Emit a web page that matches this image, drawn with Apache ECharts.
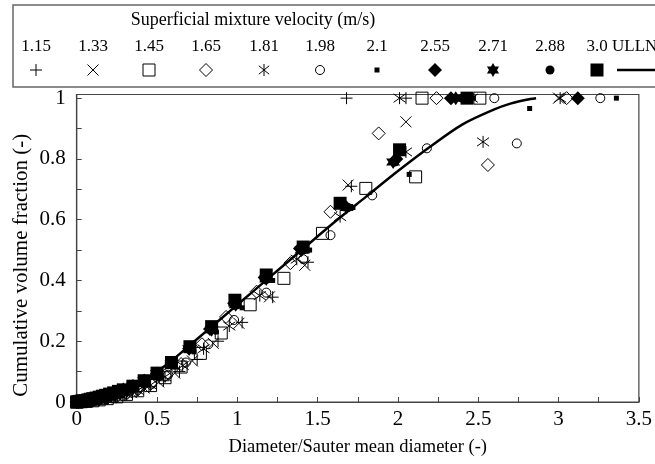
<!DOCTYPE html>
<html><head><meta charset="utf-8">
<script src="https://cdn.jsdelivr.net/npm/echarts@6/dist/echarts.min.js"></script>
<style>html,body{margin:0;padding:0;background:#fff}#c{width:655px;height:464px}</style>
</head><body><div id="c"></div>
<script>
// ---------- data ----------
const legendTitle = 'Superficial mixture velocity (m/s)';
const velocities = ['1.15','1.33','1.45','1.65','1.81','1.98','2.1','2.55','2.71','2.88','3.0'];
const xTicks = [0,0.5,1,1.5,2,2.5,3,3.5];
const yTicks = [0,0.2,0.4,0.6,0.8,1];

const x115 = [0,0.03,0.06,0.1,0.14,0.19,0.24,0.3,0.37,0.45,0.54,0.64,0.75,0.88,1.03,1.22,1.44,1.71,1.68,2.05];
const y115 = [0,0.001,0.002,0.004,0.007,0.011,0.016,0.024,0.035,0.05,0.07,0.1,0.14,0.2,0.262,0.345,0.46,0.71,1.0,1.0];

const x133 = [0,0.03,0.07,0.11,0.16,0.21,0.27,0.34,0.42,0.51,0.61,0.72,0.85,1.01,1.2,1.42,1.69,2.05,3.0];
const y133 = [0,0.001,0.003,0.005,0.009,0.014,0.021,0.031,0.046,0.066,0.095,0.135,0.193,0.259,0.346,0.45,0.714,0.922,1.0];

const x145 = [0,0.03,0.06,0.1,0.14,0.19,0.25,0.31,0.38,0.46,0.55,0.65,0.77,0.9,1.08,1.29,1.53,1.8,2.11,2.15,2.51];
const y145 = [0,0.001,0.002,0.004,0.007,0.011,0.017,0.025,0.037,0.054,0.08,0.115,0.16,0.227,0.32,0.407,0.555,0.703,0.741,1.0,1.0];

const x165 = [0,0.03,0.06,0.1,0.14,0.19,0.25,0.31,0.38,0.46,0.55,0.65,0.78,0.93,1.12,1.33,1.58,1.88,2.24,2.56,3.05];
const y165 = [0,0.001,0.002,0.005,0.008,0.012,0.019,0.028,0.041,0.06,0.088,0.125,0.19,0.28,0.363,0.457,0.626,0.884,1.0,0.78,1.0];

const x181 = [0,0.03,0.06,0.1,0.14,0.19,0.25,0.31,0.38,0.46,0.55,0.66,0.79,0.95,1.14,1.37,1.64,2.05,2.01,2.46,2.53,3.01];
const y181 = [0,0.001,0.002,0.004,0.007,0.011,0.017,0.026,0.038,0.056,0.083,0.12,0.175,0.25,0.35,0.47,0.61,0.823,1.0,1.0,0.856,1.0];

const x198 = [0,0.03,0.06,0.1,0.14,0.19,0.25,0.31,0.38,0.47,0.57,0.68,0.82,0.98,1.18,1.41,1.58,1.84,2.18,2.6,2.74,3.26];
const y198 = [0,0.001,0.002,0.004,0.007,0.011,0.018,0.027,0.04,0.06,0.09,0.13,0.19,0.27,0.36,0.47,0.549,0.68,0.835,1.0,0.851,1.0];

const x210 = [0,0.02,0.05,0.08,0.12,0.16,0.21,0.27,0.34,0.42,0.51,0.61,0.73,0.87,1.03,1.22,1.45,1.72,2.07,2.47,2.82,3.36];
const y210 = [0,0.001,0.002,0.004,0.007,0.011,0.017,0.025,0.037,0.055,0.08,0.115,0.165,0.23,0.31,0.4,0.5,0.64,0.749,1.0,0.966,1.0];

const x255 = [0,0.01,0.02,0.03,0.04,0.055,0.07,0.085,0.1,0.12,0.14,0.16,0.18,0.205,0.23,0.26,0.29,0.35,0.42,0.5,0.59,0.7,0.83,0.98,1.17,1.39,1.66,1.99,2.33,3.12];
const y255 = [0,0.001,0.002,0.003,0.004,0.005,0.007,0.009,0.011,0.013,0.016,0.019,0.022,0.026,0.03,0.035,0.04,0.052,0.07,0.094,0.128,0.176,0.24,0.325,0.41,0.505,0.65,0.8,1.0,1.0];

const x271 = [0,0.01,0.02,0.03,0.04,0.055,0.07,0.085,0.1,0.12,0.14,0.16,0.18,0.205,0.23,0.26,0.29,0.35,0.42,0.5,0.59,0.7,0.84,0.99,1.18,1.4,1.68,1.97,2.36];
const y271 = [0,0.001,0.002,0.003,0.004,0.005,0.007,0.009,0.011,0.013,0.016,0.019,0.022,0.026,0.03,0.035,0.041,0.053,0.07,0.093,0.126,0.175,0.238,0.32,0.405,0.5,0.64,0.79,1.0];

const x288 = [0,0.02,0.04,0.07,0.1,0.14,0.18,0.23,0.29,0.35,0.42,0.5,0.59,0.7,0.84,1.0,1.19,1.41,1.69,1.98,2.4];
const y288 = [0,0.002,0.004,0.007,0.011,0.016,0.022,0.03,0.041,0.053,0.07,0.093,0.126,0.175,0.238,0.32,0.405,0.5,0.64,0.79,1.0];

const x300 = [0,0.01,0.02,0.03,0.04,0.055,0.07,0.085,0.1,0.12,0.14,0.16,0.18,0.205,0.23,0.26,0.29,0.35,0.42,0.5,0.59,0.705,0.84,0.985,1.18,1.41,1.64,2.01,2.43];
const y300 = [0,0.001,0.002,0.003,0.004,0.005,0.007,0.009,0.011,0.013,0.016,0.019,0.022,0.026,0.03,0.035,0.04,0.052,0.07,0.095,0.13,0.182,0.248,0.335,0.418,0.51,0.654,0.83,1.0];

const ullnX = [0,0.1,0.2,0.3,0.4,0.5,0.6,0.7,0.8,0.9,1.0,1.2,1.4,1.6,1.8,2.0,2.2,2.4,2.6,2.7,2.8,2.86];
const ullnY = [0,0.004,0.016,0.037,0.065,0.1,0.14,0.185,0.23,0.275,0.32,0.41,0.5,0.59,0.675,0.76,0.84,0.913,0.963,0.982,0.995,1.0];

const seriesX = [x115,x133,x145,x165,x181,x198,x210,x255,x271,x288,x300];
const seriesY = [y115,y133,y145,y165,y181,y198,y210,y255,y271,y288,y300];

// ---------- styles ----------
const P = {
  plus: 'M0,5L10,5M5,0L5,10',
  cross: 'M0,0L10,10M10,0L0,10',
  rect: 'M0,0L10,0L10,10L0,10Z',
  diamond: 'M5,0L10,5L5,10L0,5Z',
  ast: 'M5,0L5,10M0.7,1.5L9.3,8.5M9.3,1.5L0.7,8.5',
  star6: 'M5,0L6.44,2.5L9.33,2.5L7.89,5L9.33,7.5L6.44,7.5L5,10L3.56,7.5L0.67,7.5L2.11,5L0.67,2.5L3.56,2.5Z'
};
// [shape, size, filled]
const styles = [
  ['plus',12,false],['cross',11,false],['rect',12,false],['diamond',13,false],
  ['ast',12,false],['circle',9,false],['rect',5,true],['diamond',14,true],
  ['star6',14,true],['circle',9,true],['rect',13,true]
];
const FONT = 'Liberation Serif';

function symOf(s){ return s==='circle' ? 'circle' : 'path://' + P[s]; }

const series = velocities.map((v,i)=>{
  const [shape,size,filled] = styles[i];
  return {
    name: v, type: 'scatter', symbol: symOf(shape), symbolSize: size,
    data: seriesX[i].map((x,j)=>[x, seriesY[i][j]]),
    itemStyle: { color: filled ? '#000' : 'rgba(0,0,0,0)', borderColor: '#000', borderWidth: filled ? 0 : 1, opacity: 1 },
    emphasis: { disabled: true }, clip: false, z: 3 + i
  };
});
series.push({
  name: 'ULLN', type: 'line', data: ullnX.map((x,j)=>[x, ullnY[j]]), smooth: 0.3,
  showSymbol: false, symbol: 'none', lineStyle: { color: '#000', width: 2.5 }, z: 20
});

// ---------- legend (graphic) ----------
function pathToGraphics(d, cx, cy, size, st) {
  const out = [];
  d.split('M').filter(s => s.length).forEach(sub => {
    const closed = /Z$/.test(sub);
    const pts = sub.replace('Z','').split('L').map(p => {
      const [a,b] = p.split(',').map(Number);
      return [cx - size/2 + a*size/10, cy - size/2 + b*size/10];
    });
    if (closed) out.push({ type: 'polygon', shape: { points: pts }, style: st });
    else out.push({ type: 'polyline', shape: { points: pts }, style: { stroke: '#000', lineWidth: 1, fill: null } });
  });
  return out;
}
const legX = [36,93,149,206,264,320,377,435,493,550,597];
const graphics = [
  { type: 'rect', shape: { x: 13, y: 5, width: 700, height: 82 }, style: { fill: null, stroke: '#666', lineWidth: 1.5 } },
  { type: 'text', x: 253, y: 20, style: { text: legendTitle, font: '18px "' + FONT + '"', fill: '#000', align: 'center', verticalAlign: 'middle' } }
];
velocities.forEach((v,i)=>{
  const cx = legX[i], cy = 70;
  graphics.push({ type: 'text', x: cx, y: 47, style: { text: v, font: '17px "' + FONT + '"', fill: '#000', align: 'center', verticalAlign: 'middle' } });
  const [shape,size,filled] = styles[i];
  const st = filled ? { fill: '#000' } : { fill: null, stroke: '#000', lineWidth: 1 };
  if (shape === 'circle') {
    graphics.push({ type: 'circle', shape: { cx: cx, cy: cy, r: size/2 }, style: st });
  } else {
    pathToGraphics(P[shape], cx, cy, size, st).forEach(g => graphics.push(g));
  }
});
graphics.push({ type: 'text', x: 612, y: 47, style: { text: 'ULLN', font: '17px "' + FONT + '"', fill: '#000', align: 'left', verticalAlign: 'middle' } });
graphics.push({ type: 'line', shape: { x1: 617, y1: 70, x2: 660, y2: 70 }, style: { stroke: '#000', lineWidth: 2.5 } });

const axisCommon = {
  type: 'value',
  axisLine: { show: true, onZero: false, lineStyle: { color: '#444', width: 1.2 } },
  axisTick: { show: true, inside: true, length: 5, lineStyle: { color: '#444', width: 1 } },
  minorTick: { show: true, splitNumber: 2, length: 5, lineStyle: { color: '#444', width: 1 } },
  splitLine: { show: false },
  nameLocation: 'middle',
  nameMoveOverlap: false
};

const chart = echarts.init(document.getElementById('c'), null, { renderer: 'canvas' });
chart.setOption({
  animation: false,
  backgroundColor: '#fff',
  grid: { left: 76.7, right: 16, top: 94.5, bottom: 62, show: true, borderColor: '#444', borderWidth: 1.2, backgroundColor: 'transparent' },
  xAxis: Object.assign({}, axisCommon, {
    min: 0, max: 3.5, interval: 0.5,
    name: 'Diameter/Sauter mean diameter (-)', nameGap: 36,
    nameTextStyle: { fontSize: 18.5, fontFamily: FONT, color: '#000' },
    axisLabel: { color: '#000', fontSize: 21, fontFamily: FONT, margin: 7,
      formatter: v => { const k = xTicks.findIndex(t => Math.abs(t - v) < 1e-6); return k >= 0 ? String(xTicks[k]) : ''; } }
  }),
  yAxis: Object.assign({}, axisCommon, {
    min: 0, max: 1.012, interval: 0.2,
    name: 'Cumulative volume fraction (-)', nameGap: 45,
    nameTextStyle: { fontSize: 21, fontFamily: FONT, color: '#000', padding: [0, 34, 0, 0] },
    axisLabel: { color: '#000', fontSize: 21, fontFamily: FONT, margin: 11, showMaxLabel: false,
      formatter: v => { const k = yTicks.findIndex(t => Math.abs(t - v) < 1e-6); return k >= 0 ? String(yTicks[k]) : ''; } }
  }),
  series: series,
  graphic: graphics
});
</script></body></html>
